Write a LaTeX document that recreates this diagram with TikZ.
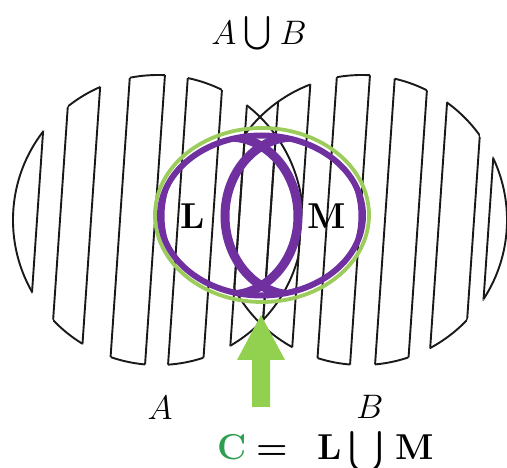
\RequirePackage{fix-cm}
\documentclass[tikz,border=0pt]{standalone}
\usepackage{amsmath}
\definecolor{lmpurple}{HTML}{7030A0}
\definecolor{ringgreen}{HTML}{9CCC5C}
\definecolor{arrowgreen}{HTML}{92D050}
\definecolor{cgreen}{HTML}{2E9E50}
\begin{document}
\begin{tikzpicture}[x=1pt,y=-1pt,
  hatch/.style={line width=1.9pt, black!90, line join=miter},
  purpring/.style={line width=6pt, lmpurple},
  lens/.style={line width=9pt, lmpurple},
  greenring/.style={line width=3.8pt, ringgreen},
  biglabel/.style={inner sep=0pt, anchor=base, font=\fontsize{34}{40}\selectfont},
  boldlabel/.style={inner sep=0pt, anchor=base, font=\fontsize{36}{42}\selectfont\bfseries}]
\useasboundingbox (0,0) rectangle (507,468);
% strips: top-left/top-right (y=60) / bottom-left/bottom-right (y=380)
\def\strips{-40/48/-62/26, 71/102/49/80, 131/166/109/144, 189/224/167/202, 250/312/228/290, 338/371/316/349, 396/429/374/407, 450/485/428/463, 500/560/478/538}
\def\hlines{48/26, 71/49, 102/80, 131/109, 166/144, 189/167, 224/202, 250/228, 281/259, 312/290, 338/316, 371/349, 396/374, 429/407, 450/428, 485/463, 500/478}
\coordinate (cA) at (158,220);
\coordinate (cB) at (362,220);
% outlines of A and B inside the strips
\begin{scope}
  \clip \foreach \a/\b/\c/\d in \strips {(\a,60) -- (\b,60) -- (\d,380) -- (\c,380) -- cycle};
  \draw[hatch] (cA) ellipse [x radius=145, y radius=145];
  \draw[hatch] (cB) ellipse [x radius=145, y radius=145];
\end{scope}
% hatch lines inside A and inside B
\begin{scope}
  \clip (cA) ellipse [x radius=145, y radius=145];
  \foreach \t/\b in \hlines {\draw[hatch] (\t,60) -- (\b,380);}
\end{scope}
\begin{scope}
  \clip (cB) ellipse [x radius=145, y radius=145];
  \foreach \t/\b in \hlines {\draw[hatch] (\t,60) -- (\b,380);}
\end{scope}
% green set C
\coordinate (cC) at (262,215);
\draw[greenring] (cC) ellipse [x radius=107, y radius=87];
% purple sets L and M
\coordinate (cO) at (261.5,215.5);
\coordinate (cL) at (229,216);
\coordinate (cM) at (294,216);
\draw[purpring] (cO) ellipse [x radius=101.5, y radius=80];
\begin{scope}
  \clip (cO) ellipse [x radius=101.5, y radius=80];
  \draw[lens] (cL) ellipse [x radius=69, y radius=79];
  \draw[lens] (cM) ellipse [x radius=69, y radius=79];
\end{scope}
% green arrow
\coordinate (tip) at (261,315);
\fill[arrowgreen] (tip) -- (285,360) -- (270,360) -- (270,407) -- (252,407) -- (252,360) -- (237,360) -- cycle;
% labels
\node[biglabel] (union) at (259,45) {$A\mathbin{\smash{\scalebox{1.35}{$\bigcup$}}}B$};
\node[biglabel] (labA) at (160,420) {$A$};
\node[biglabel] (labB) at (370,419) {$B$};
\node[boldlabel] (labL) at (193,229) {L};
\node[boldlabel] (labM) at (327,229) {M};
\node[boldlabel, text=cgreen] (eqC) at (232,460) {C};
\node[boldlabel] (eqeq) at (272,460) {=};
\node[boldlabel] (eqL) at (330,460) {L};
\node[biglabel] (eqcup) at (366,467) {\smash{\scalebox{1.7}{$\bigcup$}}};
\node[boldlabel] (eqM) at (415,460) {M};
\end{tikzpicture}
\end{document}
